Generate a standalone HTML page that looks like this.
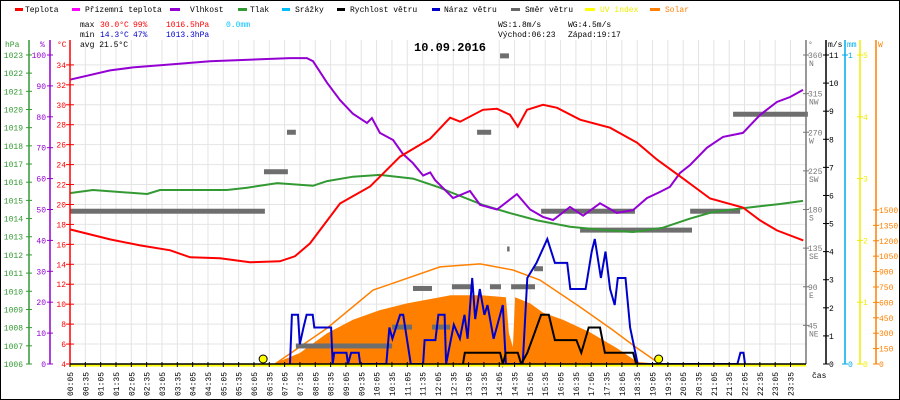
<!DOCTYPE html>
<html><head><meta charset="utf-8"><style>
html,body{margin:0;padding:0;background:#fff}
svg{display:block}
text{font-family:"Liberation Mono",monospace;font-size:8px}
</style></head><body>
<svg id="c" width="900" height="400" viewBox="0 0 900 400" xmlns="http://www.w3.org/2000/svg">
<rect x="0.5" y="0.5" width="899" height="399" fill="#fff" stroke="#000"/>
<g id="grid"></g>
<g id="series"></g>
<g id="axes"></g>
<g>
 <g><rect x="15" y="8" width="8" height="3" fill="#f00"/><text x="25" y="12">Teplota</text></g>
 <g><rect x="72" y="8" width="8" height="3" fill="#f0f"/><text x="85" y="12">Přízemní teplota</text></g>
 <g><rect x="170" y="8" width="10" height="3" fill="#9400d3"/><text x="190" y="12">Vlhkost</text></g>
 <g><rect x="238" y="8" width="9" height="3" fill="#339933"/><text x="250" y="12">Tlak</text></g>
 <g><rect x="282" y="8" width="8" height="3" fill="#00bfff"/><text x="295" y="12">Srážky</text></g>
 <g><rect x="337" y="8" width="8" height="3" fill="#000"/><text x="350" y="12">Rychlost větru</text></g>
 <g><rect x="432" y="8" width="8" height="3" fill="#0000cc"/><text x="444" y="12">Náraz větru</text></g>
 <g><rect x="511" y="8" width="9" height="3" fill="#666"/><text x="525" y="12">Směr větru</text></g>
 <g><rect x="585" y="8" width="10" height="3" fill="#ff0"/><text x="600" y="12" fill="#ee0">UV index</text></g>
 <g><rect x="650" y="8" width="10" height="3" fill="#ff8000"/><text x="665" y="12" fill="#ff8000">Solar</text></g>
</g>
<g>
 <text x="80" y="27">max</text><text x="100" y="27" fill="#f00">30.0°C</text><text x="133" y="27" fill="#f00">99%</text><text x="166" y="27" fill="#f00">1016.5hPa</text><text x="226" y="27" fill="#00bfff">0.0mm</text>
 <text x="80" y="37">min</text><text x="100" y="37" fill="#0000cc">14.3°C</text><text x="133" y="37" fill="#0000cc">47%</text><text x="166" y="37" fill="#0000cc">1013.3hPa</text>
 <text x="80" y="47">avg 21.5°C</text>
 <text x="498" y="27">WS:1.8m/s</text><text x="568" y="27">WG:4.5m/s</text>
 <text x="498" y="37">Východ:06:23</text><text x="568" y="37">Západ:19:17</text>
 <text x="414" y="51" style="font-size:12px;font-weight:bold">10.09.2016</text>
</g>
</svg>
<script>
// ---- data ----
var tempT=[0.08,1.39,2.37,3.35,4.0,4.98,5.95,6.93,7.42,7.91,8.89,9.87,10.85,11.83,12.48,12.81,13.55,14.01,14.43,14.69,14.99,15.51,15.97,16.72,17.7,18.58,19.23,20.08,20.96,22.03,22.59,23.14,24.0];
var tempV=[17.5,16.5,15.9,15.4,14.7,14.6,14.2,14.3,14.8,16.1,20.1,21.8,24.8,26.6,28.7,28.3,29.5,29.6,29.0,27.8,29.5,30.0,29.7,28.5,27.7,26.2,24.5,22.6,20.6,19.7,18.4,17.4,16.4];
var humT=[0.08,1.39,2.14,3.44,4.65,7.26,7.81,8.01,8.47,8.89,9.31,9.77,9.93,10.19,10.62,10.94,11.27,11.6,11.83,11.99,12.25,12.58,13.13,13.46,14.01,14.66,15.09,15.51,15.84,16.39,16.82,17.37,17.92,18.45,18.9,19.33,19.65,19.98,20.31,20.86,21.38,22.03,22.59,23.14,23.57,23.99];
var humV=[92,95,96,97,98,99,99,98,91,85.4,81,78,79.6,74.8,72.5,68,65,61,62,59.5,57,53.7,56,51.5,50,55,50,47.6,46.6,50.8,48,52,48.9,49.8,53.7,55.7,57.3,61.8,64.4,70,73.5,74.8,80.6,84.8,86.4,88.7];
var presT=[0.08,0.83,2.6,3.02,5.2,5.86,6.84,8.01,8.47,9.31,10.19,11.27,12.15,12.48,13.55,14.43,15.32,16.39,17.47,18.45,19.42,20.31,21.05,22.16,23.24,23.99];
var presV=[1015.4,1015.57,1015.35,1015.57,1015.57,1015.7,1015.95,1015.8,1016.06,1016.3,1016.4,1016.2,1015.7,1015.46,1014.75,1014.3,1013.9,1013.55,1013.37,1013.26,1013.5,1014.0,1014.36,1014.6,1014.8,1014.97];
var gustT=[7.26,7.32,7.52,7.58,7.7,7.8,8.0,8.05,8.6,8.65,8.7,9.1,9.15,9.25,9.5,9.55,10.4,10.5,10.6,10.85,10.95,11.2,11.6,11.65,12.0,12.1,12.3,12.35,12.6,12.8,12.95,13.05,13.2,13.3,13.45,13.6,13.7,13.9,14.0,14.2,14.3,14.85,15.0,15.3,15.65,15.9,16.3,16.4,16.9,17.1,17.2,17.4,17.55,17.7,17.85,17.95,18.2,18.35,18.6,21.85,21.95,22.05,22.1];
var gustV=[0,1.75,1.75,0.7,1.3,1.75,1.75,1.3,1.3,0,0.4,0.4,0,0.4,0.4,0,0,1.3,0.9,1.75,1.75,0,0,0.85,0.85,1.75,1.75,0,1.4,0.9,1.75,0.9,3.06,1.6,2.67,1.75,2.1,0.9,1.3,2.1,0,0,3.06,3.6,4.45,3.6,3.6,2.67,2.67,4.0,4.45,3.06,4.0,2.67,2.1,3.06,3.06,1.3,0,0,0.4,0.4,0];
var windT=[12.9,12.96,14.11,14.2,14.3,14.69,14.8,15.0,15.2,15.45,15.7,15.9,16.6,16.76,17.0,17.37,17.53,18.45,18.55];
var windV=[0,0.4,0.4,0,0.4,0.4,0,0.4,1.0,1.75,1.75,0.85,0.85,0.4,1.3,1.3,0.4,0.4,0];
var solT=[6.7,7.58,8.47,9.31,10.19,11.07,12.15,12.5,13.5,14.3,14.4,14.53,14.6,15.09,15.51,16.16,17.04,17.92,18.58,19.33];
var solV=[0,107,300,430,525,590,650,670,670,650,300,165,650,590,500,430,310,155,20,0];
var sunT=[6.77,8.47,9.97,12.15,13.46,14.53,15.41,16.72,17.79,18.58,19.33];
var sunV=[0,350,720,945,975,915,818,555,330,155,0];
var dirStart=[0.08,6.41,7.16,7.45,10.59,11.27,11.89,12.54,13.36,13.78,14.11,14.47,14.34,15.22,15.45,16.72,20.31,21.71];
var dirEnd=[6.44,7.19,7.45,10.59,11.24,11.89,12.48,13.23,13.82,14.14,14.4,15.25,14.42,15.51,18.51,20.37,21.94,24.15];
var dirV=[178,224,270,21,43,88,43,90,270,90,359,90,134,111,178,156,178,291];
var sunEvents=[6.383,19.283];
var hpaTicks=[1006,1007,1008,1009,1010,1011,1012,1013,1014,1015,1016,1017,1018,1019,1020,1021,1022,1023];
var humTicks=[0,10,20,30,40,50,60,70,80,90,100];
var tempTicks=[4,6,8,10,12,14,16,18,20,22,24,26,28,30,32,34];
var dirTicks=[45,90,135,180,225,270,315,360];
var dirNames=["NE","E","SE","S","SW","W","NW","N"];
var msTicks=[0,1,2,3,4,5,6,7,8,9,10,11];
var uvTicks=[0,1,2,3,4,5];
var wTicks=[0,150,300,450,600,750,900,1050,1200,1350,1500];
// ---- scales ----
function tx(h){return 70+(h*60-5)*0.511;}
function yT(t){return 364-(t-4)*9.97;}
function yH(v){return 364-v*3.09;}
function yP(p){return 364-(p-1006)*18.18;}
function yV(v){return 364-v*28.09;}
function yD(d){return 364-d*0.8583;}
function yW(w){return 364-w*0.1027;}
function yU(u){return 364-u*61.8;}
var NS="http://www.w3.org/2000/svg";
function mk(tag,at,par){var e=document.createElementNS(NS,tag);for(var k in at)e.setAttribute(k,at[k]);par.appendChild(e);return e;}
var grid=document.getElementById('grid'),ser=document.getElementById('series'),ax=document.getElementById('axes');
for(var k=0;k<48;k++){var x=tx(k*0.5+5/60);
 var g=mk('line',{x1:x,x2:x,y1:40,y2:364,stroke:'#e4e4e4','stroke-width':1},grid);
 
 
 var tk=mk('line',{x1:x,x2:x,y1:362,y2:367,stroke:'#000'},ax);
 
 
 var hh=Math.floor(k/2),mm=k%2?35:5;
 var lbl=(hh<10?'0':'')+hh+':'+(mm<10?'0':'')+mm;
 var t=mk('text',{x:0,y:0,transform:'translate('+(x+3)+',396) rotate(-90)'},ax);t.textContent=lbl;
 
 
}
tempTicks.forEach(function(v){var y=yT(v);
 if(v>4){var g=mk('line',{x1:70,x2:806,y1:y,y2:y,stroke:'#e4e4e4'},grid);
 
 }
 mk('line',{x1:66,x2:74,y1:y,y2:y,stroke:'#f00'},ax);
 var t=mk('text',{x:66,y:y+3,'text-anchor':'end',fill:'#f00'},ax);t.textContent=v;
 
 
});
hpaTicks.forEach(function(v){var y=yP(v);
 mk('line',{x1:26,x2:32,y1:y,y2:y,stroke:'#339933'},ax);
 var t=mk('text',{x:23,y:y+3,'text-anchor':'end',fill:'#339933'},ax);t.textContent=v;
 
 
});
humTicks.forEach(function(v){var y=yH(v);
 mk('line',{x1:47,x2:53,y1:y,y2:y,stroke:'#9400d3'},ax);
 var t=mk('text',{x:46,y:y+3,'text-anchor':'end',fill:'#9400d3'},ax);t.textContent=v;
 
 
});
dirTicks.forEach(function(v,i){var y=yD(v);
 mk('line',{x1:803,x2:809,y1:y,y2:y,stroke:'#777'},ax);
 var t=mk('text',{x:808,y:y+3,fill:'#777'},ax);t.textContent=v;
 
 
 var n=mk('text',{x:809,y:y+11,fill:'#777'},ax);n.textContent=dirNames[i];
 
 
});
msTicks.forEach(function(v){var y=yV(v);
 mk('line',{x1:823,x2:829,y1:y,y2:y,stroke:'#000'},ax);
 var t=mk('text',{x:829,y:y+3},ax);t.textContent=v;
 
 
});
[0,1].forEach(function(v){var y=364-v*309;
 mk('line',{x1:842,x2:848,y1:y,y2:y,stroke:'#00aaee'},ax);
 var t=mk('text',{x:848,y:y+3,fill:'#00aaee'},ax);t.textContent=v;
 
 
});
uvTicks.forEach(function(v){var y=yU(v);
 mk('line',{x1:857,x2:863,y1:y,y2:y,stroke:'#ee0'},ax);
 var t=mk('text',{x:863,y:y+3,fill:'#ee0'},ax);t.textContent=v;
 
 
});
wTicks.forEach(function(v){var y=yW(v);
 mk('line',{x1:873,x2:879,y1:y,y2:y,stroke:'#ff8000'},ax);
 var t=mk('text',{x:879,y:y+3,fill:'#ff8000'},ax);t.textContent=v;
 
 
});
[[29,'#339933'],[50,'#9400d3'],[70,'#f00'],[806,'#777'],[826,'#000'],[845,'#00aaee'],[860,'#ee0'],[876,'#ff8000']].forEach(function(a){
 var l=mk('line',{x1:a[0],x2:a[0],y1:40,y2:364,stroke:a[1],'stroke-width':1.5},ax);
 
 
});
[[5,'hPa','#339933'],[40,'%','#9400d3'],[57,'°C','#f00'],[808,'°','#777'],[828,'m/s','#000'],[847,'mm','#00aaee'],[878,'W','#ff8000']].forEach(function(a){
 var t=mk('text',{x:a[0],y:47,fill:a[2]},ax);t.textContent=a[1];
 
 
});
var cas=mk('text',{x:812,y:378},ax);cas.textContent='čas';


function pts(T,V,fy){return T.map(function(t,i){return tx(t).toFixed(1)+','+fy(V[i]).toFixed(1);}).join(' ');}
var s=mk('polygon',{points:tx(solT[0])+',364 '+pts(solT,solV,yW)+' '+tx(solT[solT.length-1])+',364',fill:'#ff8000'},ser);


var su=mk('polyline',{points:pts(sunT,sunV,yW),fill:'none',stroke:'#ff8000','stroke-width':1.5},ser);


dirV.forEach(function(d,i){
 var r=mk('rect',{x:tx(dirStart[i]),y:yD(d)-2.5,width:Math.max(2,tx(dirEnd[i])-tx(dirStart[i])),height:5,fill:'#6e6e6e'},ser);
 
 
});
var p=mk('polyline',{points:pts(presT,presV,yP),fill:'none',stroke:'#339933','stroke-width':2},ser);


var h=mk('polyline',{points:pts(humT,humV,yH),fill:'none',stroke:'#9400d3','stroke-width':2},ser);


var tl=mk('polyline',{points:pts(tempT,tempV,yT),fill:'none',stroke:'#f00','stroke-width':2},ser);


var gl=mk('polyline',{points:pts(gustT,gustV,yV),fill:'none',stroke:'#0000cc','stroke-width':2},ser);


var wl=mk('polyline',{points:pts(windT,windV,yV),fill:'none',stroke:'#000','stroke-width':2},ser);


var b=mk('line',{x1:70,x2:806,y1:364,y2:364,stroke:'#000','stroke-width':1.5},ax);


var uv=mk('line',{x1:70,x2:806,y1:365.5,y2:365.5,stroke:'#ff0','stroke-width':2},ser);


sunEvents.forEach(function(t){
 var c=mk('circle',{cx:tx(t),cy:359,r:4,fill:'#ff0',stroke:'#000','stroke-width':1},ser);
 
 
});
</script>
</body></html>
